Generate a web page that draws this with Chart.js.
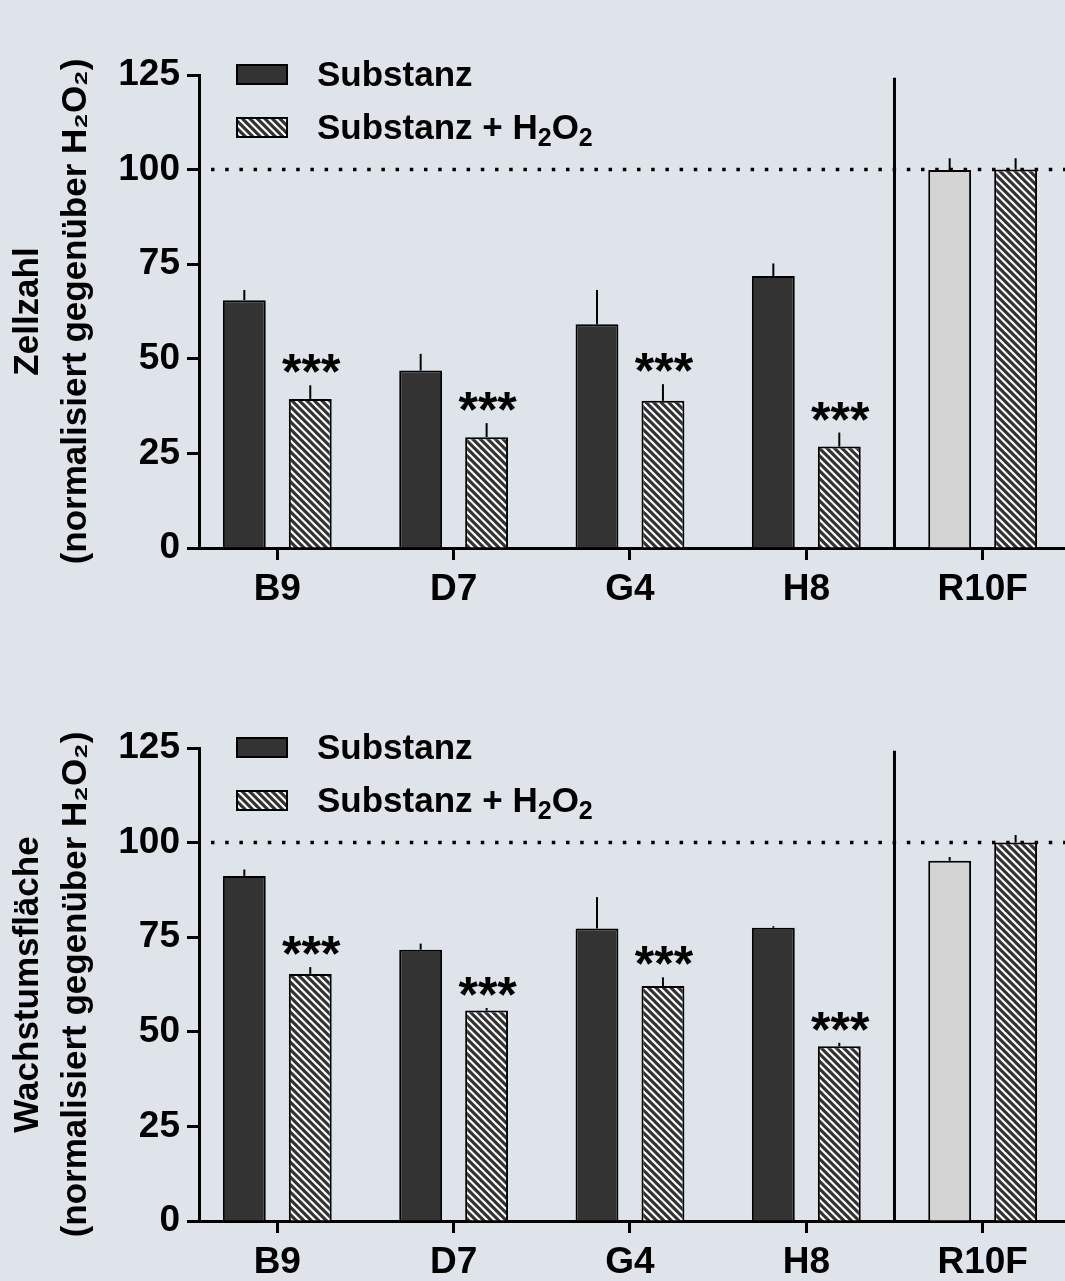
<!DOCTYPE html>
<html><head><meta charset="utf-8">
<script src="https://cdn.jsdelivr.net/npm/chart.js@4.4.1/dist/chart.umd.min.js"></script>
<style>
html,body{margin:0;padding:0;background:#dfe3ea;overflow:hidden;width:1065px;height:1281px;}
canvas{position:absolute;left:0;}
#c1{top:0}
#c2{top:673px}
</style></head><body>
<canvas id="c1" width="1065" height="620"></canvas>
<canvas id="c2" width="1065" height="620"></canvas>
<script>
// ---- data ----
const categories = ['B9', 'D7', 'G4', 'H8', 'R10F'];
const controlCategory = 'R10F';
const seriesLabels = ['Substanz', 'Substanz + H₂O₂'];
const significance = ['***', '***', '***', '***', ''];
const yTickValues = [0, 25, 50, 75, 100, 125];
const referenceLevel = 100;

const zellzahlSubstanz   = [65.5, 46.9, 59.1, 71.9, 99.9];
const zellzahlSubstanzSD = [2.7, 4.4, 9.1, 3.3, 3.1];
const zellzahlH2O2       = [39.4, 29.3, 38.9, 26.8, 100];
const zellzahlH2O2SD     = [3.6, 3.7, 4.4, 3.7, 3.0];

const flaecheSubstanz    = [91.2, 71.7, 77.3, 77.5, 95.2];
const flaecheSubstanzSD  = [1.7, 1.6, 8.3, 0.4, 1.0];
const flaecheH2O2        = [65.3, 55.6, 62.1, 46.2, 100];
const flaecheH2O2SD      = [1.8, 0.7, 2.3, 0.9, 2.0];

const titleZellzahl = ['Zellzahl', '(normalisiert gegenüber H₂O₂)'];
const titleFlaeche  = ['Wachstumsfläche', '(normalisiert gegenüber H₂O₂)'];

// ---- styles ----
const FONT = "'Liberation Sans', Arial, Helvetica, sans-serif";
const DARK = '#333333';
const CONTROL = '#d4d4d4';

function makeHatch(ctx) {
  const s = 15;
  const c = document.createElement('canvas');
  c.width = s; c.height = s;
  const g = c.getContext('2d');
  g.fillStyle = DARK; g.fillRect(0, 0, s, s);
  g.strokeStyle = '#ffffff'; g.lineWidth = 2.1;
  for (const k of [-15, -7.5, 0, 7.5, 15]) {
    g.beginPath(); g.moveTo(k - 2, -2); g.lineTo(k + s + 2, s + 2); g.stroke();
  }
  return ctx.createPattern(c, 'repeat');
}

const annotate = {
  id: 'annotate',
  afterDatasetsDraw(chart) {
    const { ctx, chartArea: a, scales: { x, y } } = chart;
    ctx.save();
    // reference dotted line
    const py = y.getPixelForValue(referenceLevel);
    ctx.strokeStyle = '#000'; ctx.lineWidth = 3.5; ctx.setLineDash([3.5, 10.7]);
    ctx.beginPath(); ctx.moveTo(a.left + 12, py); ctx.lineTo(a.right, py); ctx.stroke();
    ctx.setLineDash([]);
    // separator before control
    const sx = x.getPixelForValue(categories.indexOf(controlCategory) - 0.5);
    ctx.lineWidth = 3;
    ctx.beginPath(); ctx.moveTo(sx, y.getPixelForValue(124.3)); ctx.lineTo(sx, a.bottom); ctx.stroke();
    // error bars + significance
    chart.data.datasets.forEach((ds, di) => {
      const meta = chart.getDatasetMeta(di);
      meta.data.forEach((bar, i) => {
        const top = y.getPixelForValue(ds.data[i].y + ds.errors[i]);
        ctx.lineWidth = 2; ctx.strokeStyle = '#000';
        ctx.beginPath(); ctx.moveTo(bar.x, bar.y); ctx.lineTo(bar.x, top); ctx.stroke();
        if (di === 1 && significance[i]) {
          ctx.fillStyle = '#000';
          ctx.font = 'bold 50px ' + FONT;
          ctx.textAlign = 'center'; ctx.textBaseline = 'alphabetic';
          ctx.fillText(significance[i], bar.x + 1, top + 4);
        }
      });
    });
    // legend
    const lx = a.left + 38;
    const items = chart.data.datasets;
    items.forEach((ds, di) => {
      const by = a.top - 10 + di * 53;
      ctx.fillStyle = Array.isArray(ds.backgroundColor) ? ds.backgroundColor[0] : ds.backgroundColor;
      ctx.fillRect(lx, by, 50, 19);
      ctx.strokeStyle = '#000'; ctx.lineWidth = 2;
      ctx.strokeRect(lx, by, 50, 19);
      const ty = by + 11;
      ctx.fillStyle = '#000'; ctx.textAlign = 'left'; ctx.textBaseline = 'middle';
      let tx = a.left + 118;
      const parts = ds.label.split(/(₂)/);
      parts.forEach(p => {
        if (!p) return;
        if (p === '₂') {
          ctx.font = 'bold 25px ' + FONT;
          ctx.fillText('2', tx, ty + 10);
          tx += ctx.measureText('2').width;
        } else {
          ctx.font = 'bold 35px ' + FONT;
          ctx.fillText(p, tx, ty);
          tx += ctx.measureText(p).width;
        }
      });
    });
    ctx.restore();
  }
};

function buildChart(canvas, subst, substSD, h2o2, h2o2SD, title) {
  const ctx = canvas.getContext('2d');
  const hatch = makeHatch(ctx);
  const axisGrid = { display: true, drawOnChartArea: false, drawTicks: true, tickLength: 12, tickWidth: 3, tickColor: '#000', offset: false };
  const axisBorder = { display: true, width: 3, color: '#000' };
  return new Chart(ctx, {
    type: 'bar',
    data: {
      datasets: [
        { label: seriesLabels[0], data: categories.map((c, i) => ({ x: i, y: subst[i] })), errors: substSD,
          backgroundColor: categories.map(c => c === controlCategory ? CONTROL : DARK), borderColor: '#000', borderWidth: 2 },
        { label: seriesLabels[1], data: categories.map((c, i) => ({ x: i, y: h2o2[i] })), errors: h2o2SD,
          backgroundColor: hatch, borderColor: '#000', borderWidth: 2 }
      ]
    },
    options: {
      responsive: false, animation: false, devicePixelRatio: 1,
      layout: { padding: { top: 75, left: 0, right: 0, bottom: 0 } },
      datasets: { bar: { categoryPercentage: 0.748, barPercentage: 0.65 } },
      plugins: { legend: { display: false }, tooltip: { enabled: false } },
      scales: {
        x: {
          type: 'linear', offset: false, min: -0.444, max: 4.467,
          grid: axisGrid, border: axisBorder,
          afterBuildTicks: s => { s.ticks = categories.map((c, i) => ({ value: i })); },
          afterFit: s => { s.height = 72; },
          ticks: { color: '#000', font: { family: FONT, size: 37, weight: 'bold' }, padding: 8,
                   autoSkip: false, maxRotation: 0, callback: v => categories[v] ?? '' }
        },
        y: {
          min: 0, max: 125,
          grid: axisGrid, border: axisBorder,
          afterBuildTicks: s => { s.ticks = yTickValues.map(v => ({ value: v })); },
          afterFit: s => { s.width = 199; },
          ticks: { color: '#000', font: { family: FONT, size: 37, weight: 'bold' }, padding: 7 },
          title: { display: true, text: title, color: '#000',
                   font: { family: FONT, size: 35, weight: 'bold', lineHeight: 1.38 }, padding: { top: 4, bottom: 0 } }
        }
      }
    },
    plugins: [annotate]
  });
}

buildChart(document.getElementById('c1'), zellzahlSubstanz, zellzahlSubstanzSD, zellzahlH2O2, zellzahlH2O2SD, titleZellzahl);
buildChart(document.getElementById('c2'), flaecheSubstanz, flaecheSubstanzSD, flaecheH2O2, flaecheH2O2SD, titleFlaeche);
</script>
</body></html>
